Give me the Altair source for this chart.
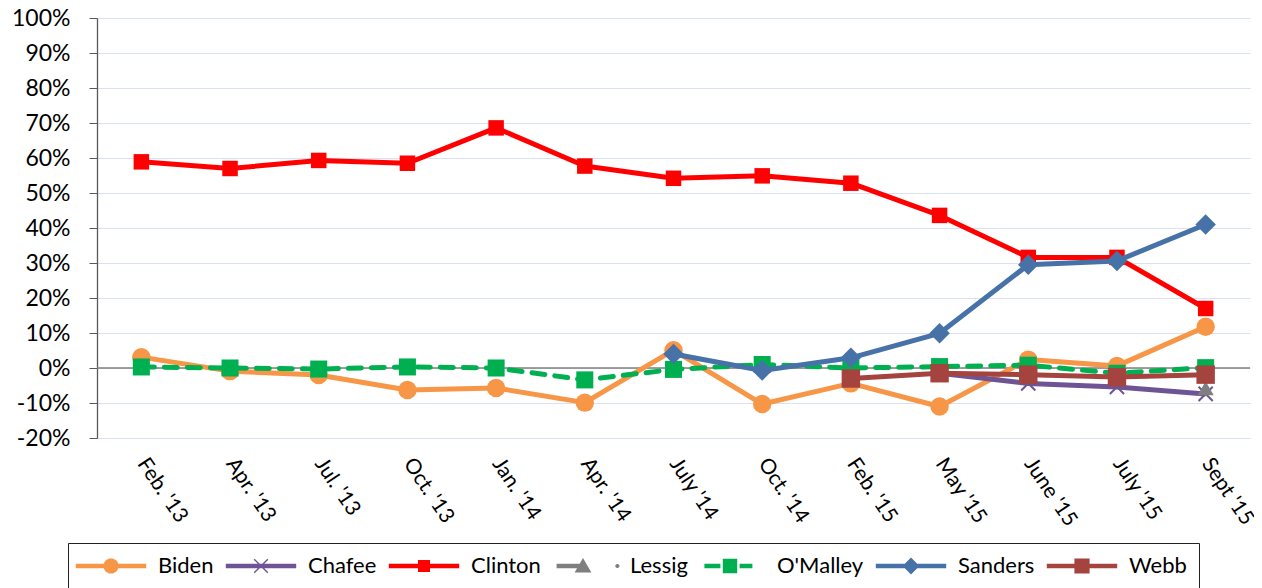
import math
import altair as alt
import pandas as pd

# ---------------- data ----------------
dates = ["Feb. '13", "Apr. '13", "Jul. '13", "Oct. '13", "Jan. '14", "Apr. '14",
         "July '14", "Oct. '14", "Feb. '15", "May '15", "June '15", "July '15", "Sept '15"]
series = ["Biden", "Chafee", "Clinton", "Lessig", "O'Malley", "Sanders", "Webb"]

biden = [3.1, -0.9, -2.0, -6.3, -5.7, -9.9, 5.1, -10.3, -4.4, -11.0, 2.4, 0.6, 11.8]
chafee = [None] * 9 + [-1.5, -4.4, -5.4, -7.4]
clinton = [58.9, 57.0, 59.3, 58.5, 68.6, 57.7, 54.2, 54.9, 52.8, 43.6, 31.6, 31.6, 17.0]
lessig = [None] * 12 + [-5.8]
omalley = [0.3, 0.0, -0.3, 0.3, 0.0, -3.4, -0.4, 1.0, 0.0, 0.4, 0.8, -1.5, 0.1]
sanders = [None] * 6 + [4.0, -0.7, 2.9, 9.9, 29.5, 30.6, 41.0]
webb = [None] * 8 + [-3.0, -1.5, -1.9, -2.6, -1.9]
values = [biden, chafee, clinton, lessig, omalley, sanders, webb]

y_ticks = list(range(-20, 101, 10))

# ---------------- styles ----------------
colors = ["#F79646", "#6E5494", "#FF0000", "#7F7F7F", "#00B050", "#4672A8", "#A5443F"]
X_PATH = "M-1,-1L1,1M1,-1L-1,1"
marks = {
    "Biden": dict(shape="circle", size=340, filled=True),
    "Chafee": dict(shape=X_PATH, size=200, filled=False, strokeWidth=2),
    "Clinton": dict(shape="square", size=240, filled=True),
    "Lessig": dict(shape="triangle-up", size=260, filled=True),
    "O'Malley": dict(shape="square", size=290, filled=True),
    "Sanders": dict(shape="diamond", size=420, filled=True),
    "Webb": dict(shape="square", size=340, filled=True),
}
dashes = {"O'Malley": [13, 10], "Lessig": [1, 6]}


def poly(pts):
    a = sum(pts[i][0] * pts[(i + 1) % len(pts)][1] - pts[(i + 1) % len(pts)][0] * pts[i][1]
            for i in range(len(pts)))
    if a < 0:
        pts = pts[::-1]
    return "M" + "L".join(f"{x:.3f},{y:.3f}" for x, y in pts) + "Z"


def rect(x0, x1, y0, y1):
    return poly([(x0, y0), (x1, y0), (x1, y1), (x0, y1)])


def circ(cx, cy, r, n=28):
    return poly([(cx + r * math.cos(2 * math.pi * k / n), cy + r * math.sin(2 * math.pi * k / n)) for k in range(n)])


def bar(x0, y0, x1, y1, t):
    dx, dy = x1 - x0, y1 - y0
    L = math.hypot(dx, dy)
    nx, ny = -dy / L * t, dx / L * t
    return poly([(x0 + nx, y0 + ny), (x1 + nx, y1 + ny), (x1 - nx, y1 - ny), (x0 - nx, y0 - ny)])


T = 0.28
line_full = rect(-4.4, 4.4, -T, T)
legend_paths = [
    line_full + circ(0, 0, 0.95),
    line_full + bar(-0.85, -0.85, 0.85, 0.85, 0.09) + bar(0.85, -0.85, -0.85, 0.85, 0.09),
    line_full + rect(-0.75, 0.75, -0.75, 0.75),
    rect(-3.3, 0, -T, T) + poly([(0, -1.0), (1.05, 0.8), (-1.05, 0.8)]) + circ(4.3, 0, 0.26),
    rect(-3.2, -1.2, -T, T) + rect(-0.9, 0.9, -0.9, 0.9) + rect(1.2, 2.8, -T, T),
    line_full + poly([(0, -1.05), (1.05, 0), (0, 1.05), (-1.05, 0)]),
    line_full + rect(-0.95, 0.95, -0.95, 0.95),
]

rows = []
for s, vals in zip(series, values):
    for d, v in zip(dates, vals):
        if v is not None:
            rows.append({"series": s, "date": d, "value": v})
df = pd.DataFrame(rows)

FONT = "Lato"

x_enc = alt.X("date:N", sort=dates,
              scale=alt.Scale(domain=dates, type="point", padding=0.5),
              axis=alt.Axis(title=None, labelAngle=56, labelAlign="left", labelBaseline="middle",
                            labelFont=FONT, labelFontSize=21, labelColor="#000000", labelPadding=22,
                            domain=False, ticks=False, grid=False))
y_enc = alt.Y("value:Q", scale=alt.Scale(domain=[-20, 100], nice=False, zero=False),
              axis=alt.Axis(title=None, values=y_ticks, labelExpr="datum.value + '%'",
                            labelFont=FONT, labelFontSize=23, labelColor="#000000", labelPadding=19,
                            tickSize=8, tickColor="#595959", domainColor="#595959", domainWidth=1.3,
                            gridColor="#D9E1F2", gridWidth=1.2))

base = alt.Chart(df)
zero = alt.Chart(pd.DataFrame({"value": [0]})).mark_rule(color="#7F7F7F", strokeWidth=1.5).encode(y=y_enc)

layers = [zero]
for s, c in zip(series, colors):
    d = base.transform_filter(alt.datum.series == s)
    lk = dict(color=c, strokeWidth=5, strokeJoin="round")
    if s in dashes:
        lk["strokeDash"] = dashes[s]
        lk["strokeCap"] = "round"
    layers.append(d.mark_line(**lk).encode(x=x_enc, y=y_enc))
    m = marks[s]
    pk = dict(shape=m["shape"], size=m["size"], filled=m["filled"], opacity=1, color=c)
    if "strokeWidth" in m:
        pk["strokeWidth"] = m["strokeWidth"]
    layers.append(d.mark_point(**pk).encode(x=x_enc, y=y_enc))

legend = alt.Legend(title=None, orient="none", legendX=-29, legendY=525, direction="horizontal",
                    columns=7, symbolSize=256, symbolStrokeWidth=0, symbolOffset=20,
                    labelFont=FONT, labelFontSize=22, labelColor="#000000", labelOffset=36,
                    columnPadding=11, padding=12, strokeColor="#222222", symbolOpacity=1)
legend_layer = base.transform_filter("datum.value > 1000").mark_point(filled=True, opacity=1).encode(
    x=x_enc, y=y_enc,
    color=alt.Color("series:N", scale=alt.Scale(domain=series, range=colors), legend=legend),
    shape=alt.Shape("series:N", scale=alt.Scale(domain=series, range=legend_paths), legend=legend),
)
layers.append(legend_layer)

chart = alt.layer(*layers).properties(
    width=1153, height=420,
    autosize=alt.AutoSizeParams(type="none"),
    padding={"left": 89, "top": 10, "right": 4, "bottom": 160},
).configure_view(stroke=None)

chart.save("out.html", embed_options={"renderer": "svg", "actions": False})
